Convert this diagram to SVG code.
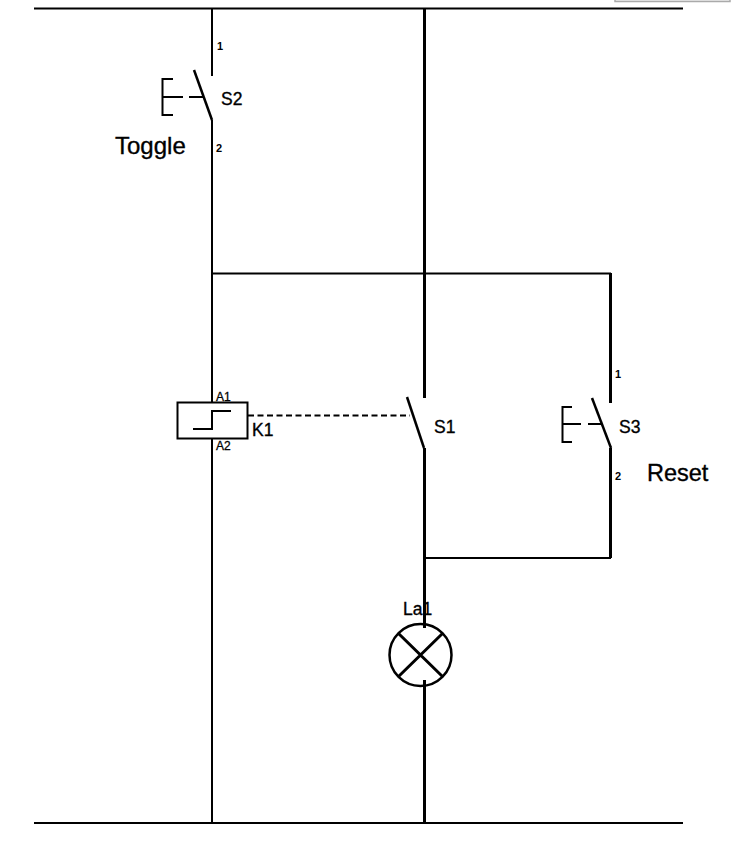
<svg xmlns="http://www.w3.org/2000/svg" width="739" height="842" viewBox="0 0 739 842">
<style>
.w{fill:none;stroke:#000;stroke-width:2;stroke-linecap:butt;stroke-linejoin:miter}
.t{stroke-width:3}
.k{stroke-width:2.500}
.l{font-family:"Liberation Sans",Arial,sans-serif;fill:#000;stroke:#000;stroke-width:.35}
.s{font-size:11px;font-weight:bold;stroke:none}
.a{font-size:12px;stroke-width:.3}
.m{font-size:17.500px}
.b{font-size:23.500px}
.d{stroke-dasharray:6 3.500}
</style>
<rect width="739" height="842" fill="#fff"/>
<g id="window-edge"><path d="M615 0V1.500H730V0" fill="#eee" stroke="#aaa" stroke-width="1.500"/></g>
<g id="connectors">
<path class="w" d="M34 8.500H683M34 823H683"/>
<path class="w" d="M212 8V76M212 120V402M212 438V823"/>
<path class="w t" d="M424.500 8V398M424.500 448V628M424.500 680V823"/>
<path class="w" d="M212 273.500H611M424 558H611"/>
<path class="w t" d="M610.500 273V403M610.500 448V558"/>
<path class="w d" d="M248 415.500H410"/>
</g>
<g id="S2">
<path class="w k" d="M194 70L212 120"/>
<path class="w" d="M173 79H162.500V115H173M162 97H183M189 97H203"/>
<text class="l m" x="221" y="105">S2</text>
<text class="l s" x="217" y="50">1</text>
<text class="l s" x="216" y="152">2</text>
<text class="l" style="font-size:24px" x="115" y="154">Toggle</text>
</g>
<g id="K1">
<rect class="w" x="177.500" y="402.500" width="70" height="36"/>
<path class="w" d="M193 429H212V411H231"/>
<text class="l a" x="216" y="401">A1</text>
<text class="l a" x="216" y="450">A2</text>
<text class="l m" x="252" y="436">K1</text>
</g>
<g id="S1">
<path class="w k" d="M407 397L424 448"/>
<text class="l m" x="434" y="433">S1</text>
</g>
<g id="S3">
<path class="w k" d="M592 398L611 448"/>
<path class="w" d="M572 407H562.500V442H572M562 424H581M588 424H602"/>
<text class="l m" x="619" y="433">S3</text>
<text class="l s" x="615" y="378">1</text>
<text class="l s" x="615" y="480">2</text>
<text class="l b" x="647" y="481">Reset</text>
</g>
<g id="La1">
<circle class="w k" cx="420.500" cy="655" r="31"/>
<path class="w t" d="M398 633L443 677M443 633L398 677"/>
<text class="l m" x="403" y="615">La1</text>
</g>
</svg>
